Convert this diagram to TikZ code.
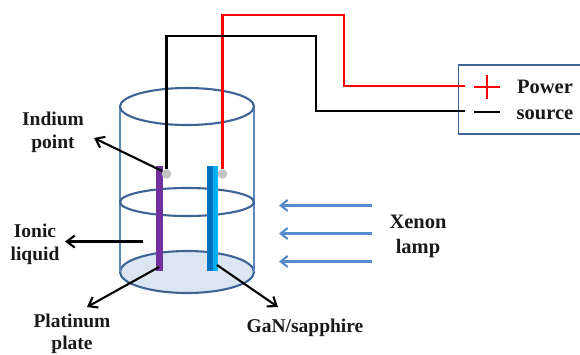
\documentclass[tikz,border=0pt]{standalone}
\usepackage{fontspec}
\setmainfont{Liberation Serif}
\usetikzlibrary{arrows.meta}
\definecolor{cylblue}{RGB}{95,135,190}
\definecolor{ringblue}{RGB}{62,100,150}
\definecolor{basefill}{RGB}{220,230,242}
\definecolor{arrblue}{RGB}{85,140,205}
\definecolor{plum}{RGB}{112,48,160}
\definecolor{darkblue}{RGB}{0,112,192}
\definecolor{lightblue}{RGB}{0,176,240}
\definecolor{dot}{RGB}{195,195,195}
\tikzset{
 lbl/.style={font=\bfseries\fontsize{19.5}{23}\selectfont,align=center,inner sep=0pt,text=black!90},
 lblb/.style={font=\bfseries\fontsize{20.5}{25}\selectfont,align=center,inner sep=0pt,text=black!90},
 pointer/.style={draw=black,line width=2.1pt,-{Straight Barb[length=8pt,width=12pt]}},
 ring/.style={draw=ringblue,line width=2.1pt},
 side/.style={draw=cylblue,line width=1.6pt},
 lamp/.style={draw=arrblue,line width=2.1pt,-{Straight Barb[length=7pt,width=11pt]}},
 wire/.style={line width=2.1pt},
 contact/.style={circle,fill=dot,minimum size=9.5pt,inner sep=0pt}
}
\begin{document}
\begin{tikzpicture}[x=1pt,y=-1pt]
\useasboundingbox (0,0) rectangle (580,354);
% cylinder
\draw[ring,fill=basefill] (187,272) ellipse [x radius=67,y radius=21];
\draw[side] (120,106.5) -- (120,272);
\draw[side] (254,106.5) -- (254,272);
\draw[ring] (187,106.5) ellipse [x radius=67,y radius=18.5];
\draw[ring] (187,202) ellipse [x radius=67,y radius=14];
% plates
\fill[plum] (156,166) rectangle (162.7,271);
\fill[darkblue] (207.3,166) rectangle (212.7,271);
\fill[lightblue] (212.7,166) rectangle (218,271);
% contacts
\node[contact] (c1) at (166.5,174) {};
\node[contact] (c2) at (222.5,174) {};
% power box
\draw[draw=ringblue,line width=1.5pt] (458.5,65) rectangle (590,134);
\coordinate (rEnd) at (465,86);
\coordinate (kEnd) at (465,111);
\draw[wire,red] (c2.north) -- (222.5,15) -- (344,15) -- (344,86) -- (rEnd);
\draw[wire,black] (c1.north) -- (166.5,36) -- (316,36) -- (316,111) -- (kEnd);
\draw[red,line width=2.1pt] (474,87) -- (500,87) (487,75) -- (487,99);
\draw[black,line width=2.1pt] (474,112) -- (500,112);
\node[lblb] (power) at (545,87) {Power};
\node[lblb] (source) at (545,115) {source};
% labels
\node[lbl] (indium) at (53,132.5) {Indium\\point};
\node[lbl] (ionic) at (35,244.5) {Ionic\\liquid};
\node[lbl] (plat) at (72,334) {Platinum\\[-1.5pt]plate};
\node[lbl] (gan) at (305,328) {GaN/sapphire};
\node[lblb] (xenon) at (418,236.5) {Xenon\\lamp};
% pointers
\coordinate (pIn) at (162,171);
\coordinate (pIl) at (143,241.5);
\coordinate (pPl) at (159,267);
\coordinate (pGa) at (217,265);
\draw[pointer] (pIn) -- (94,138);
\draw[pointer] (pIl) -- (65,241.5);
\draw[pointer] (pPl) -- (87,307);
\draw[pointer] (pGa) -- (278,307);
% lamp arrows
\coordinate (l1) at (371.5,205.5);
\coordinate (l2) at (371.5,233.5);
\coordinate (l3) at (371.5,261.5);
\draw[lamp] (l1) -- (279,205.5);
\draw[lamp] (l2) -- (279,233.5);
\draw[lamp] (l3) -- (279,261.5);
\end{tikzpicture}
\end{document}
